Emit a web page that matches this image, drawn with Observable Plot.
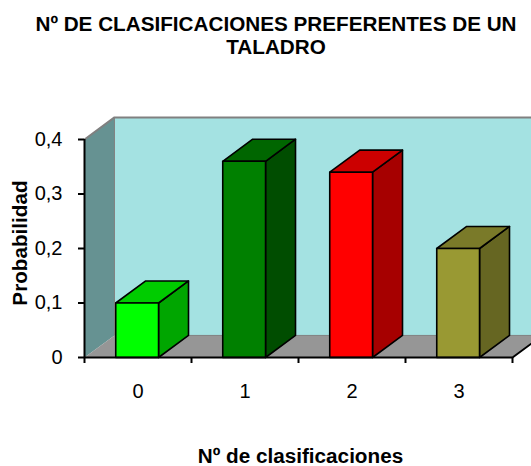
<!DOCTYPE html>
<html><head><meta charset="utf-8">
<script src="https://cdn.jsdelivr.net/npm/d3@7"></script>
<script src="https://cdn.jsdelivr.net/npm/@observablehq/plot@0.6"></script>
<style>
html,body{margin:0;padding:0;background:#fff;overflow:hidden}
#title{height:100px;box-sizing:border-box;padding-top:12px;text-align:center;font:bold 20.7px/23px "Liberation Sans",Arial,sans-serif;color:#000;width:552px;white-space:nowrap}
#chart svg{display:block;overflow:hidden}
</style></head><body>
<div id="title">Nº DE CLASIFICACIONES PREFERENTES DE UN<br>TALADRO</div>
<div id="chart"></div>
<script>
const categories = [0, 1, 2, 3];
const values = [0.1, 0.36, 0.34, 0.2];
const frontColors = ["#00ff00", "#008000", "#ff0000", "#999933"];
const topColors = ["#00cc00", "#006600", "#cc0000", "#7a7a29"];
const sideColors = ["#00a600", "#004d00", "#a60000", "#666622"];
const xBoundaries = [-0.5, 0.5, 1.5, 2.5, 3.5];
const yTicks = [0, 0.1, 0.2, 0.3, 0.4];
const barHalf = 0.2, depthX = 0.28, depthY = 0.0405, barShift = -0.008;

const poly = (id, fill, pts) => [...pts, pts[0]].map(([x, y]) => ({id, fill, x, y}));
const xL = xBoundaries[0], xR = xBoundaries[4] + 0.4;

const wallBack = poly("back", "#a4e2e2", [[xL + depthX, depthY], [xR, depthY], [xR, 0.4 + depthY], [xL + depthX, 0.4 + depthY]]);
const wallLeft = poly("left", "#669292", [[xL, 0], [xL + depthX, depthY], [xL + depthX, 0.4 + depthY], [xL, 0.4]]);
const floor = poly("floor", "#969696", [[xL, 0], [xBoundaries[4], 0], [xBoundaries[4] + depthX, depthY], [xL + depthX, depthY]]);

const faces = categories.flatMap((c, i) => {
  const a = c + barShift - barHalf, b = c + barShift + barHalf, v = values[i];
  return [
    ...poly(`s${i}`, sideColors[i], [[b, 0], [b + depthX, depthY], [b + depthX, v + depthY], [b, v]]),
    ...poly(`t${i}`, topColors[i], [[a, v], [b, v], [b + depthX, v + depthY], [a + depthX, v + depthY]]),
    ...poly(`f${i}`, frontColors[i], [[a, 0], [b, 0], [b, v], [a, v]])
  ];
});

const polyMark = (d, opts) => Plot.line(d, {x: "x", y: "y", z: "id", fill: "fill", curve: "linear", ...opts});

const plot = Plot.plot({
  width: 531, height: 366,
  marginLeft: 84, marginRight: 19, marginTop: 39, marginBottom: 109,
  style: {fontFamily: '"Liberation Sans",Arial,sans-serif', background: "#fff", color: "#000"},
  x: {domain: [-0.5, 3.5], label: null},
  y: {domain: [0, 0.4], label: null},
  marks: [
    polyMark(wallBack, {stroke: "none"}),
    polyMark(wallLeft, {stroke: "none"}),
    polyMark(floor, {stroke: "none"}),
    Plot.line([[xL, 0.4], [xL + depthX, 0.4 + depthY], [xR, 0.4 + depthY]], {x: d => d[0], y: d => d[1], stroke: "#808080", strokeWidth: 2}),
    Plot.line([[xL + depthX, 0.4 + depthY], [xL + depthX, depthY], [xR, depthY]], {x: d => d[0], y: d => d[1], stroke: "#808080", strokeWidth: 1}),
    polyMark(faces, {stroke: "#000", strokeWidth: 1.6, strokeLinejoin: "round"}),
    Plot.line([[xBoundaries[4], 0], [xBoundaries[4] + depthX, depthY]], {x: d => d[0], y: d => d[1], stroke: "#000", strokeWidth: 2}),
    Plot.ruleY([0], {x1: xL, x2: xBoundaries[4], stroke: "#000", strokeWidth: 2}),
    Plot.ruleX([xL], {y1: 0, y2: 0.4, stroke: "#000", strokeWidth: 2}),
    Plot.axisY({ticks: yTicks, tickSize: 6, tickPadding: 16, strokeWidth: 2, stroke: "#000", fontSize: 20, label: null, tickFormat: d => String(d).replace(".", ",")}),
    Plot.axisX({ticks: xBoundaries, tickSize: 6, strokeWidth: 2, stroke: "#000", tickFormat: () => "", label: null}),
    Plot.axisX({ticks: categories, tickSize: 0, tickPadding: 26, fontSize: 20, label: null, tickFormat: d => String(d)}),
    Plot.text(["Nº de clasificaciones"], {frameAnchor: "bottom", dx: 2, dy: 105, fontSize: 20.7, fontWeight: "bold", fill: "#000"}),
    Plot.text(["Probabilidad"], {frameAnchor: "left", textAnchor: "middle", rotate: -90, dx: -64, dy: -5.5, fontSize: 20.7, fontWeight: "bold", fill: "#000"})
  ]
});
document.getElementById("chart").append(plot);
</script>
</body></html>
